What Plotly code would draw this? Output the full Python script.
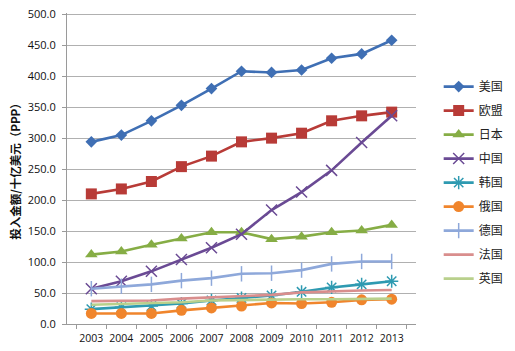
import plotly.graph_objects as go

years = ["2003", "2004", "2005", "2006", "2007", "2008", "2009", "2010", "2011", "2012", "2013"]
series_names = ["美国", "欧盟", "日本", "中国", "韩国", "俄国", "德国", "法国", "英国"]
usa = [294, 305, 328, 353, 380, 408, 406, 410, 429, 436, 458]
eu = [210, 218, 230, 254, 271, 294, 300, 308, 328, 336, 342]
japan = [112, 117, 128, 138, 148, 148, 137, 141, 148, 151, 160]
china = [57, 69, 85, 104, 123, 145, 184, 213, 248, 293, 336]
korea = [24, 27, 29, 33, 38, 42, 46, 52, 59, 64, 69]
russia = [17, 17, 17, 22, 26, 29, 34, 33, 35, 39, 40]
germany = [57, 61, 64, 70, 74, 81, 82, 87, 97, 101, 101]
france = [37, 37, 38, 41, 43, 45, 47, 51, 53, 54, 55]
uk = [31, 32, 33, 35, 38, 39, 40, 40, 40, 40, 41]
y_ticks = [0, 50, 100, 150, 200, 250, 300, 350, 400, 450, 500]

values = [usa, eu, japan, china, korea, russia, germany, france, uk]
colors = ["#3F6FB4", "#B83B37", "#86AD45", "#6A4A94", "#2E9AB1", "#F0852C", "#8EA8DA", "#D98E8D", "#B9D08C"]
symbols = ["diamond", "square", "triangle-up", "x-thin", "asterisk", "circle", "line-ns", None, None]
sizes = [9, 11, 11, 11, 11, 11, 11, 0, 0]

fig = go.Figure()
for name, vals, col, sym, sz in zip(series_names, values, colors, symbols, sizes):
    if sym is None:
        mode = "lines"
        marker = dict()
    else:
        mode = "lines+markers"
        if sym in ("x-thin", "asterisk", "line-ns"):
            marker = dict(symbol=sym, size=sz, color=col, line=dict(color=col, width=1.5))
        else:
            marker = dict(symbol=sym, size=sz, color=col, line=dict(width=0))
    fig.add_trace(go.Scatter(
        x=years, y=vals, name=name, mode=mode, legendgroup=name,
        line=dict(color=col, width=2.6),
        marker=marker,
    ))

fig.update_layout(
    width=515, height=351,
    margin=dict(l=67, r=79, t=6, b=26),
    plot_bgcolor="white", paper_bgcolor="white",
    font=dict(family="Noto Sans CJK SC, Open Sans, sans-serif", size=11, color="#222222"),
    showlegend=True,
    legend=dict(x=1.065, y=0.81, xanchor="left", yanchor="top",
                font=dict(size=12, color="#222222"), tracegroupgap=5,
                itemwidth=30, bgcolor="rgba(0,0,0,0)"),
    xaxis=dict(type="category", showgrid=False, showline=True, linecolor="#9A9A9A",
               ticks="outside", tickson="boundaries", ticklen=4, tickcolor="#9A9A9A",
               tickangle=0, ticklabelstandoff=4,
               tickfont=dict(size=10.5, family="Open Sans, sans-serif", color="#111111")),
    yaxis=dict(range=[0, 502], tickvals=y_ticks, tickformat=".1f", showgrid=True,
               gridcolor="#B0B0B0", gridwidth=1, showline=True, linecolor="#9A9A9A",
               ticks="outside", ticklen=4, tickcolor="#9A9A9A", zeroline=False,
               ticklabeloverflow="allow", ticklabelstandoff=4,
               tickfont=dict(size=11, family="Open Sans, sans-serif", color="#111111"),
               title=dict(text="<b>投入金额/十亿美元（PPP）</b>", standoff=4,
                          font=dict(size=11.5, family="Noto Sans CJK SC", color="#111111"))),
)

fig.write_html("out.html")
